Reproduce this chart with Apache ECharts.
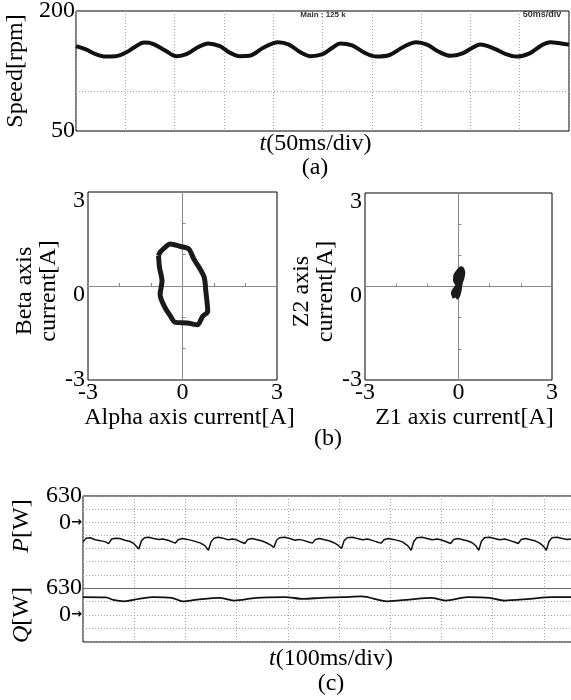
<!DOCTYPE html>
<html><head><meta charset="utf-8">
<script src="https://cdn.jsdelivr.net/npm/echarts@6/dist/echarts.min.js"></script>
<style>html,body{margin:0;padding:0;background:#fff}#c{width:571px;height:700px}</style>
</head><body><div id="c"></div>
<script>
// ---- (a) speed waveform ----
const speedTime = [0,10,20,30,40,52,62,69,78,90,102,112,124,134,146,156,166,176,190,205,216,228,238,250,260,268,280,294,305,318,332,345,356,368,380,392,402,410,424,436,447,460,472,481,492,500];
const speedRpm  = [156,152,146,143,143.5,149,157,160.5,159,151,143.5,146,155,159.5,156,148,143.5,144,154,161,158,148,143.5,146,154,159.5,157,147,143,145,155,161,158,149,144,147,154,158,153,146,143,147,157,161,159.5,158];
const speedTicks = [50, 200];
const speedGridLines = [100];

// ---- (b) current trajectories ----
const alphaCurrent = [-0.76,-0.71,-0.49,-0.39,-0.06,0.2,0.36,0.53,0.69,0.74,0.8,0.64,0.47,0.15,-0.23,-0.39,-0.55,-0.71,-0.65,-0.73,-0.76];
const betaCurrent  = [0.97,1.08,1.29,1.34,1.26,1.18,0.86,0.59,0.27,-0.16,-0.81,-0.97,-1.24,-1.18,-1.16,-0.95,-0.7,-0.27,0.16,0.59,0.97];
const z1Current = [-0.1,-0.15,-0.05,0.0,-0.08,-0.07,0.0,0.08,0.12,0.1,0.05,0.02,0.0,-0.05,-0.1];
const z2Current = [-0.35,-0.2,-0.05,0.05,0.2,0.35,0.45,0.55,0.45,0.3,0.15,0.0,-0.15,-0.3,-0.35];
const currentTicks = [-3, 0, 3];

// ---- (c) active / reactive power ----
const pTime = [0,6,14,24,34,44,50,56,64,72,82,92,100,109,114,120,128,138,148,156,166,174,180,186,194,204,214,222,230,238,245,250,256,264,274,284,292,300,310,316,322,330,340,350,358,366,373,378,384,394,404,414,422,432,442,448,454,462,472,482,490,498,505,510,516,526,536,546,556,566,576,582,588,596,606,616,624,634,641,646,652,662,672,682,692,702,712,718,724,732,742,752,760,767,773,778,784,794,804,814,824,834,844,850,856,864,874,884,892,899,905,910,916,926,936,946,956,966,976,986,992,1000];
const pWatt = [-470,-380,-370,-420,-440,-470,-510,-400,-380,-390,-430,-460,-520,-640,-450,-370,-360,-390,-410,-400,-430,-470,-500,-420,-390,-410,-440,-470,-500,-560,-670,-470,-380,-360,-385,-420,-400,-420,-480,-510,-410,-390,-420,-450,-490,-540,-600,-430,-370,-360,-390,-430,-410,-440,-480,-500,-410,-390,-420,-450,-490,-550,-630,-440,-370,-360,-390,-420,-400,-440,-480,-500,-420,-390,-410,-440,-470,-560,-670,-460,-370,-360,-390,-420,-400,-430,-480,-510,-410,-390,-420,-450,-490,-560,-670,-460,-370,-360,-390,-420,-400,-440,-480,-510,-410,-390,-420,-450,-500,-570,-670,-460,-370,-360,-390,-410,-400,-430,-470,-500,-420,-400];
const qTime = [0,45,59,80,109,138,173,195,223,266,295,338,395,430,466,509,544,594,637,680,708,751,794,823,873,915,953,1000];
const qWatt = [417,410,353,320,377,417,401,320,360,401,337,401,417,377,401,417,433,320,360,401,337,417,401,337,377,417,417,410];
const powerTicks = [0, 630];

const FONT = 'Liberation Serif';
const DASH = {type:[1,2], color:'#a8a8a8', width:1};
const zip = (a,b) => a.map((v,i)=>[v,b[i]]);

function labelFmt(ticks){ return v => ticks.includes(v) ? String(v) : ''; }

function scatterAxes(g, xName, xPadLeft, yName, yGap){
  const xs = [
    {gridIndex:g,type:'value',min:-3,max:3,interval:3,
     axisLine:{show:false,onZero:false},axisTick:{show:false},splitLine:{show:false},
     axisLabel:{formatter:labelFmt(currentTicks),fontFamily:FONT,fontSize:24,color:'#000',margin:1},
     name:xName,nameLocation:'middle',nameGap:15,
     nameTextStyle:{fontFamily:FONT,fontSize:24,color:'#000',padding:[0,0,0,xPadLeft]}},
    {gridIndex:g,type:'value',min:-3,max:3,interval:1,
     axisLine:{show:true,onZero:true,lineStyle:{color:'#888',width:1}},
     axisTick:{show:true,length:3,lineStyle:{color:'#888'}},axisLabel:{show:false},splitLine:{show:false}}
  ];
  const ys = [
    {gridIndex:g,type:'value',min:-3,max:3,interval:3,
     axisLine:{show:false,onZero:false},axisTick:{show:false},splitLine:{show:false},
     axisLabel:{formatter:v => v===-3 ? '{e|-3}' : (currentTicks.includes(v) ? '{d|'+v+'}' : ''),
       margin:3,color:'#000',
       rich:{d:{fontFamily:FONT,fontSize:24,color:'#000',padding:[18,0,0,0]},
             e:{fontFamily:FONT,fontSize:24,color:'#000',padding:[0,0,0,0]}}},
     name:yName,nameLocation:'middle',nameRotate:90,nameGap:yGap,
     nameTextStyle:{fontFamily:FONT,fontSize:24,color:'#000',lineHeight:24,padding:[0,10,0,0]}},
    {gridIndex:g,type:'value',min:-3,max:3,interval:1,
     axisLine:{show:true,onZero:true,lineStyle:{color:'#888',width:1}},
     axisTick:{show:true,length:3,lineStyle:{color:'#888'}},axisLabel:{show:false},splitLine:{show:false}}
  ];
  return {xs, ys};
}

const sA = scatterAxes(1,'Alpha axis current[A]',14,'Beta axis\ncurrent[A]',25);
const sB = scatterAxes(2,'Z1 axis current[A]',12,'Z2 axis\ncurrent[A]',19);

const powerLabel = v => v===0 ? '{n|0}{a|→}' : (powerTicks.includes(v) ? '{n|'+v+'}' : '');
const powerRich = {n:{fontFamily:FONT,fontSize:24,color:'#000'},a:{fontFamily:'DejaVu Sans',fontSize:13,color:'#000',fontWeight:'bold'}};

const chart = echarts.init(document.getElementById('c'), null, {renderer:'canvas'});
chart.setOption({
  animation:false,
  backgroundColor:'#fff',
  grid:[
    {left:76,top:11,width:493,height:120,show:true,borderColor:'#000',borderWidth:1,outerBoundsMode:'none'},
    {left:88,top:192,width:189,height:188,show:true,borderColor:'#000',borderWidth:1,outerBoundsMode:'none'},
    {left:365,top:193,width:187,height:187,show:true,borderColor:'#000',borderWidth:1,outerBoundsMode:'none'},
    {left:83,top:496,width:512,height:92,show:false,outerBoundsMode:'none'},
    {left:83,top:588,width:512,height:54,show:false,outerBoundsMode:'none'},
    {left:83,top:496,width:512,height:146,show:true,borderColor:'#000',borderWidth:1,outerBoundsMode:'none'}
  ],
  xAxis:[
    {gridIndex:0,type:'value',min:0,max:500,interval:50,
     axisLine:{show:false,onZero:false},axisTick:{show:false},axisLabel:{show:false},splitLine:{show:true,lineStyle:DASH},
     name:'{i|t}(50ms/div)',nameLocation:'middle',nameGap:1,
     nameTextStyle:{fontFamily:FONT,fontSize:24,color:'#000',padding:[0,14,0,0],
       rich:{i:{fontFamily:FONT,fontSize:24,fontStyle:'italic',color:'#000'}}}},
    sA.xs[0], sA.xs[1], sB.xs[0], sB.xs[1],
    {gridIndex:3,type:'value',min:0,max:1000,interval:100,
     axisLine:{show:true,onZero:false,lineStyle:{color:'#666',width:1}},axisTick:{show:false},axisLabel:{show:false},
     splitLine:{show:true,lineStyle:DASH}},
    {gridIndex:4,type:'value',min:0,max:1000,interval:100,
     axisLine:{show:false,onZero:false},axisTick:{show:false},axisLabel:{show:false},
     splitLine:{show:true,lineStyle:DASH},
     name:'{i|t}(100ms/div)',nameLocation:'middle',nameGap:5,
     nameTextStyle:{fontFamily:FONT,fontSize:24,color:'#000',padding:[0,16,0,0],
       rich:{i:{fontFamily:FONT,fontSize:24,fontStyle:'italic',color:'#000'}}}},
    {gridIndex:5,type:'value',min:0,max:1,show:false}
  ],
  yAxis:[
    {gridIndex:0,type:'value',min:50,max:200,interval:150,
     axisLine:{show:false,onZero:false},axisTick:{show:false},splitLine:{show:false},
     axisLabel:{formatter:labelFmt(speedTicks),fontFamily:FONT,fontSize:24,color:'#000',margin:1},
     name:'Speed[rpm]',nameLocation:'middle',nameRotate:90,nameGap:42,
     nameTextStyle:{fontFamily:FONT,fontSize:24,color:'#000'}},
    sA.ys[0], sA.ys[1], sB.ys[0], sB.ys[1],
    {gridIndex:3,type:'value',min:-1575,max:630,interval:315,
     axisLine:{show:false,onZero:false},axisTick:{show:false},splitLine:{show:true,lineStyle:DASH},
     axisLabel:{formatter:powerLabel,rich:powerRich,margin:1},
     name:'{i|P}[W]',nameLocation:'middle',nameRotate:90,nameGap:49,
     nameTextStyle:{fontFamily:FONT,fontSize:24,color:'#000',padding:[0,0,0,32],
       rich:{i:{fontFamily:FONT,fontSize:24,fontStyle:'italic',color:'#000'}}}},
    {gridIndex:4,type:'value',min:-630,max:630,interval:315,
     axisLine:{show:false,onZero:false},axisTick:{show:false},splitLine:{show:true,lineStyle:DASH},
     axisLabel:{formatter:powerLabel,rich:powerRich,margin:1},
     name:'{i|Q}[W]',nameLocation:'middle',nameRotate:90,nameGap:49,
     nameTextStyle:{fontFamily:FONT,fontSize:24,color:'#000',
       rich:{i:{fontFamily:FONT,fontSize:24,fontStyle:'italic',color:'#000'}}}},
    {gridIndex:5,type:'value',min:0,max:1,show:false}
  ],
  series:[
    {type:'line',xAxisIndex:0,yAxisIndex:0,data:zip(speedTime,speedRpm),showSymbol:false,smooth:0.35,
     lineStyle:{color:'#111',width:4},
     markLine:{silent:true,symbol:['none','none'],label:{show:false},lineStyle:DASH,
       data:speedGridLines.map(v=>({yAxis:v}))}},
    {type:'line',xAxisIndex:1,yAxisIndex:1,data:zip(alphaCurrent,betaCurrent),showSymbol:false,smooth:0.3,
     lineStyle:{color:'#1a1a1a',width:5}},
    {type:'line',xAxisIndex:3,yAxisIndex:3,data:zip(z1Current,z2Current),showSymbol:false,smooth:0.3,
     lineStyle:{color:'#1a1a1a',width:6}},
    {type:'line',xAxisIndex:5,yAxisIndex:5,data:zip(pTime,pWatt),showSymbol:false,
     lineStyle:{color:'#111',width:1.5}},
    {type:'line',xAxisIndex:6,yAxisIndex:6,data:zip(qTime,qWatt),showSymbol:false,smooth:0.3,
     lineStyle:{color:'#111',width:1.8}}
  ],
  graphic:[
    {type:'text',style:{text:'Main : 125 k',x:323,y:15,align:'center',verticalAlign:'middle',fontFamily:'Liberation Sans Narrow, Liberation Sans',fontSize:8,fontWeight:'bold',fill:'#333'}},
    {type:'text',style:{text:'50ms/div',x:542,y:15,align:'center',verticalAlign:'middle',fontFamily:'Liberation Sans Narrow, Liberation Sans',fontSize:9,fontWeight:'bold',fill:'#333'}},
    {type:'text',style:{text:'(a)',x:315,y:168,align:'center',verticalAlign:'middle',fontFamily:FONT,fontSize:24,fill:'#000'}},
    {type:'text',style:{text:'(b)',x:328,y:439,align:'center',verticalAlign:'middle',fontFamily:FONT,fontSize:24,fill:'#000'}},
    {type:'text',style:{text:'(c)',x:331,y:684,align:'center',verticalAlign:'middle',fontFamily:FONT,fontSize:24,fill:'#000'}}
  ]
});
</script></body></html>
